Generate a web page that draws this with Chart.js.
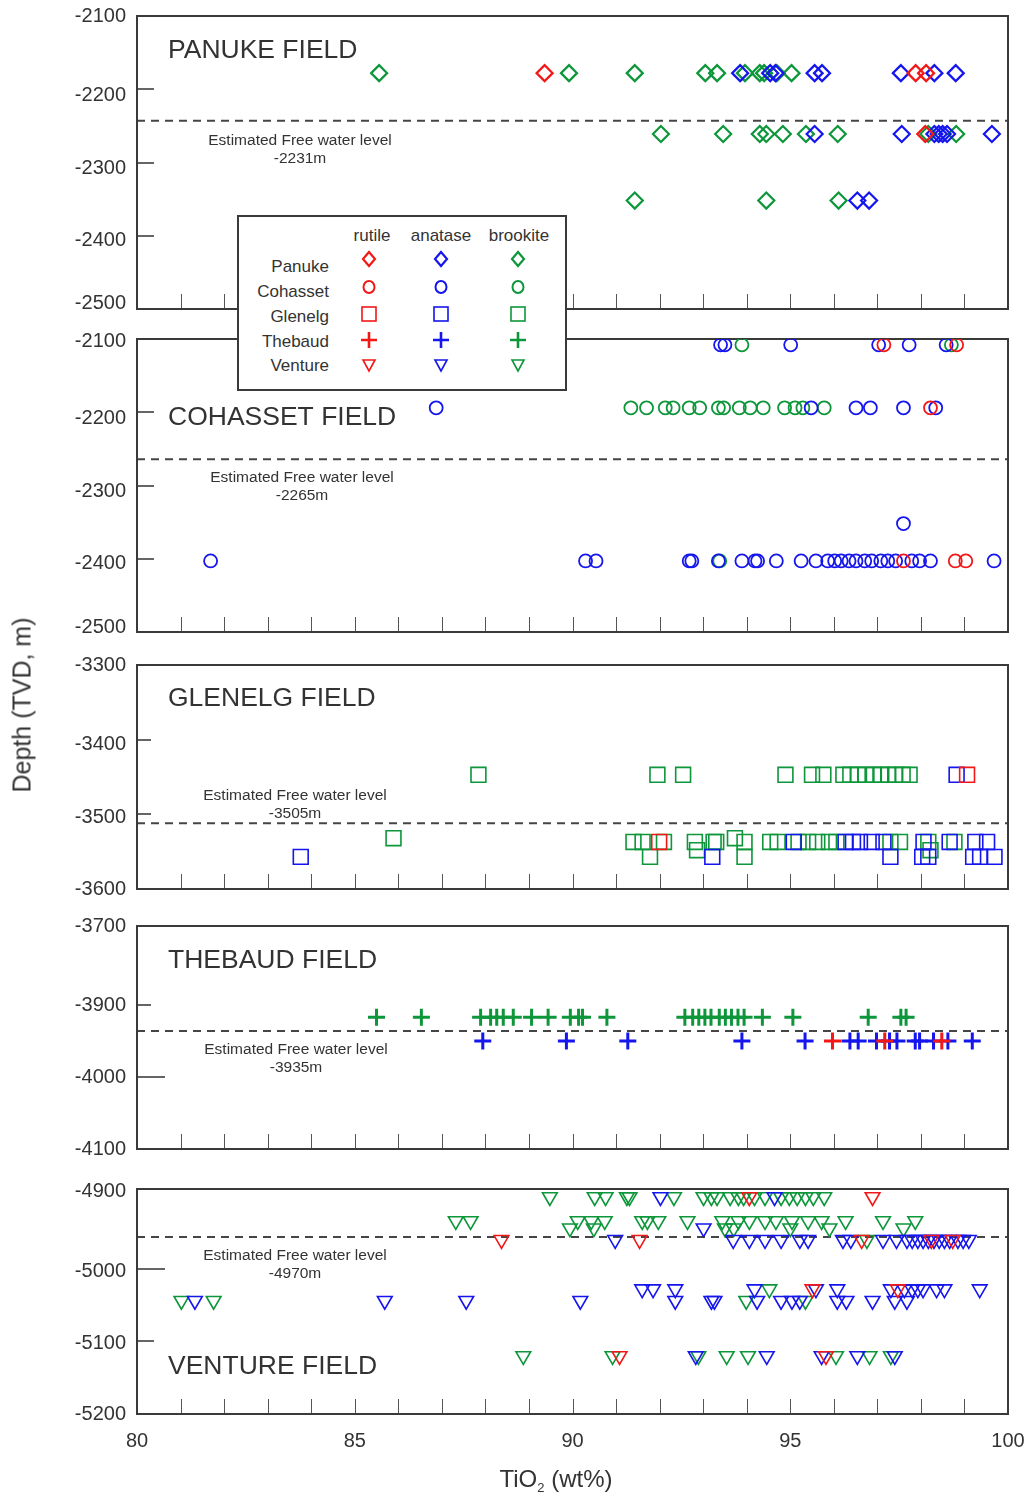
<!DOCTYPE html>
<html>
<head>
<meta charset="utf-8">
<script src="https://cdn.jsdelivr.net/npm/chart.js@4/dist/chart.umd.min.js"></script>
<style>
  body { margin: 0; background: #fff; width: 1029px; height: 1496px; position: relative; overflow: hidden;
         font-family: "Liberation Sans", Arial, sans-serif; color: #333; }
  canvas { position: absolute; left: 0; }
  #ytitle { position: absolute; left: 22px; top: 705px; transform: translate(-50%, -50%) rotate(-90deg);
            font-size: 25px; white-space: nowrap; }
  #xtitle { position: absolute; left: 556px; top: 1480px; transform: translate(-50%, -50%);
            font-size: 24px; white-space: nowrap; }
  #xtitle sub { font-size: 13px; }
  #legend { position: absolute; left: 237px; top: 215px; z-index: 5; }
</style>
</head>
<body>
<canvas id="p1" width="1029" height="341" style="top:-8px"></canvas>
<canvas id="p2" width="1029" height="341" style="top:315px"></canvas>
<canvas id="p3" width="1029" height="272" style="top:641px"></canvas>
<canvas id="p4" width="1029" height="271" style="top:902px"></canvas>
<canvas id="p5" width="1048" height="331" style="top:1165px"></canvas>
<div id="ytitle">Depth (TVD, m)</div>
<div id="xtitle">TiO<sub>2</sub> (wt%)</div>

<svg id="legend" width="330" height="176">
  <rect x="1" y="1" width="328" height="174" fill="#fff" stroke="#3a3a3a" stroke-width="2"/>
  <g font-family="Liberation Sans, Arial, sans-serif" font-size="17" fill="#333" text-anchor="middle">
    <text x="135" y="26">rutile</text>
    <text x="204" y="26">anatase</text>
    <text x="282" y="26">brookite</text>
  </g>
  <g font-family="Liberation Sans, Arial, sans-serif" font-size="17" fill="#333" text-anchor="end">
    <text x="92" y="57">Panuke</text>
    <text x="92" y="82">Cohasset</text>
    <text x="92" y="107">Glenelg</text>
    <text x="92" y="132">Thebaud</text>
    <text x="92" y="156">Venture</text>
  </g>
  <g id="legendMarks" fill="none" stroke-width="2"></g>
</svg>

<script>
// TiO2 (wt%) values grouped by depth rows: [depth (m), [TiO2 values...]]
const panukeRutile = [[-2178, [89.36, 97.88, 98.12]], [-2261, [98.10]]];
const panukeAnatase = [
  [-2178, [93.85, 94.54, 94.66, 95.56, 95.73, 97.54, 98.31, 98.80]],
  [-2261, [95.56, 97.56, 98.31, 98.41, 98.50, 98.60, 99.63]],
  [-2352, [96.54, 96.81]]
];
const panukeBrookite = [
  [-2178, [85.56, 89.92, 91.43, 93.05, 93.32, 93.96, 94.30, 94.40, 94.69, 95.03]],
  [-2261, [92.03, 93.46, 94.30, 94.45, 94.83, 95.36, 96.09, 98.17, 98.81]],
  [-2352, [91.43, 94.45, 96.11]]
];

const cohassetRutile = [[-2108, [97.15, 98.82]], [-2194, [98.22]], [-2403, [97.60, 98.79, 99.03]]];
const cohassetAnatase = [
  [-2108, [93.40, 93.50, 95.01, 97.03, 97.73, 98.58]],
  [-2194, [86.87, 95.48, 96.51, 96.84, 97.60, 98.34]],
  [-2352, [97.60]],
  [-2403, [81.69, 90.30, 90.54, 92.68, 92.74, 93.35, 93.89, 94.19, 94.25, 94.68, 95.25, 95.59, 95.86,
           96.02, 96.17, 96.35, 96.51, 96.71, 96.87, 97.08, 97.24, 97.42, 97.79, 97.97, 98.22, 99.68]]
];
const cohassetBrookite = [
  [-2108, [93.89, 98.70]],
  [-2194, [91.34, 91.70, 92.13, 92.31, 92.68, 92.92, 93.35, 93.47, 93.83, 94.08, 94.38, 94.87, 95.11, 95.29, 95.78]],
  [-2403, [93.38]]
];

const glenelgRutile = [[-3447, [99.06]], [-3537, [91.99]]];
const glenelgAnatase = [
  [-3447, [98.82]],
  [-3537, [95.08, 96.27, 96.44, 96.60, 96.87, 97.14, 98.06, 98.66, 99.25, 99.52]],
  [-3557, [83.76, 93.21, 97.30, 98.03, 98.17, 99.20, 99.36, 99.69]]
];
const glenelgBrookite = [
  [-3447, [87.84, 91.95, 92.54, 94.89, 95.50, 95.76, 96.22, 96.38, 96.55, 96.73, 96.92, 97.09, 97.25, 97.41, 97.58, 97.74]],
  [-3532, [85.89, 93.73]],
  [-3537, [91.40, 91.61, 92.10, 92.81, 93.24, 93.30, 93.95, 94.54, 94.71, 95.19, 95.41, 95.62, 95.89, 96.06,
           97.30, 97.52, 98.17, 98.77]],
  [-3548, [92.86, 98.22]],
  [-3557, [91.78, 93.95]]
];

const thebaudRutile = [[-3950, [95.97, 97.17, 98.48]]];
const thebaudAnatase = [
  [-3950, [87.94, 89.86, 91.27, 93.89, 95.34, 96.37, 96.56, 96.98, 97.28, 97.45, 97.87, 97.97, 98.29, 98.62, 99.18]]
];
const thebaudBrookite = [
  [-3917, [85.50, 86.53, 87.89, 88.12, 88.26, 88.41, 88.64, 89.06, 89.44, 89.95, 90.14, 90.23, 90.79, 92.58,
           92.76, 92.90, 93.04, 93.18, 93.37, 93.51, 93.65, 93.80, 93.94, 94.36, 95.06, 96.79, 97.54, 97.66]]
];

const ventureRutile = [
  [-4901, [94.06, 96.89]],
  [-4960, [88.37, 91.54, 96.64, 98.24, 98.73]],
  [-5028, [95.51, 97.47]],
  [-5120, [91.08, 95.82]]
];
const ventureAnatase = [
  [-4901, [92.02, 94.64]],
  [-4944, [93.01]],
  [-4960, [90.98, 93.69, 94.06, 94.42, 94.79, 95.22, 95.41, 96.21, 96.39, 97.13, 97.44, 97.68, 97.80, 97.93,
           98.05, 98.17, 98.30, 98.42, 98.54, 98.66, 98.85, 98.97, 99.10]],
  [-5028, [91.60, 91.85, 92.36, 94.18, 95.59, 96.08, 97.31, 97.62, 97.80, 97.93, 98.05, 98.36, 98.54, 99.35]],
  [-5044, [81.33, 85.69, 87.56, 90.18, 92.36, 93.19, 93.26, 94.24, 94.79, 95.04, 95.22, 96.08, 96.29, 96.89, 97.40, 97.68]],
  [-5120, [92.83, 94.46, 95.72, 96.54, 97.40]]
];
const ventureBrookite = [
  [-4901, [89.48, 90.51, 90.76, 91.25, 91.31, 92.33, 93.01, 93.19, 93.32, 93.62, 93.81, 93.93, 94.18, 94.42,
           94.79, 94.98, 95.16, 95.35, 95.53, 95.78]],
  [-4934, [87.32, 87.66, 90.12, 90.43, 90.74, 91.60, 91.72, 91.97, 92.64, 93.44, 93.81, 94.06, 94.42, 94.67,
           95.04, 95.41, 95.72, 96.27, 97.13, 97.87]],
  [-4944, [89.94, 90.49, 93.50, 93.70, 95.00, 95.90, 97.60]],
  [-4960, [96.76]],
  [-5028, [94.52]],
  [-5044, [81.02, 81.76, 93.99, 95.35]],
  [-5120, [88.87, 90.92, 92.89, 93.54, 94.03, 96.05, 96.82, 97.31]]
];

// axis ranges, tick label positions / labels and free water levels per field
const fieldNames = ['PANUKE FIELD', 'COHASSET FIELD', 'GLENELG FIELD', 'THEBAUD FIELD', 'VENTURE FIELD'];
const depthRanges = [[-2500, -2100], [-2500, -2100], [-3600, -3300], [-4100, -3790], [-5200, -4890]];
const depthTicks = [
  [-2101, -2209, -2308, -2406, -2493],
  [-2103, -2209, -2308, -2406, -2494],
  [-3300, -3406, -3504, -3600],
  [-3790, -3900, -4000, -4100],
  [-4893, -5004, -5103, -5200]
];
const depthTickLabels = [
  ['-2100', '-2200', '-2300', '-2400', '-2500'],
  ['-2100', '-2200', '-2300', '-2400', '-2500'],
  ['-3300', '-3400', '-3500', '-3600'],
  ['-3700', '-3900', '-4000', '-4100'],
  ['-4900', '-5000', '-5100', '-5200']
];
const waterLevels = [-2243, -2264, -3512, -3936, -4956];
const waterLabels = ['-2231m', '-2265m', '-3505m', '-3935m', '-4970m'];
const tioTicks = [80, 85, 90, 95, 100];

const RED = '#f21818', BLUE = '#1515ee', GREEN = '#0d963a';
const FONT = '"Liberation Sans", Arial, sans-serif';
Chart.defaults.font.family = FONT;

function toPoints(rows) {
  const pts = [];
  rows.forEach(([depth, xs]) => xs.forEach(x => pts.push({ x: x, y: depth })));
  return pts;
}

// frame, inner ticks, water level line and labels
const decor = {
  id: 'decor',
  beforeDatasetsDraw(chart, args, o) {
    const { ctx, chartArea: a, scales: { x, y } } = chart;
    ctx.save();
    const wy = y.getPixelForValue(o.water);
    ctx.strokeStyle = '#454545';
    ctx.lineWidth = 2;
    ctx.setLineDash([8, 6]);
    ctx.beginPath();
    ctx.moveTo(a.left, wy);
    ctx.lineTo(a.right, wy);
    ctx.stroke();
    ctx.setLineDash([]);

    ctx.strokeStyle = '#555';
    ctx.lineWidth = 1;
    ctx.beginPath();
    for (let v = 81; v < 100; v++) {
      const px = Math.round(x.getPixelForValue(v)) + 0.5;
      ctx.moveTo(px, a.bottom);
      ctx.lineTo(px, a.bottom - 15);
    }
    ctx.stroke();

    ctx.strokeStyle = '#333';
    ctx.lineWidth = 1.6;
    ctx.beginPath();
    o.marks.forEach(([v, len]) => {
      const py = Math.round(y.getPixelForValue(v));
      ctx.moveTo(a.left, py);
      ctx.lineTo(a.left + len, py);
    });
    ctx.stroke();

    ctx.strokeStyle = '#3a3a3a';
    ctx.lineWidth = 2;
    ctx.strokeRect(a.left, a.top, a.width, a.height);

    ctx.fillStyle = '#333';
    ctx.textBaseline = 'middle';
    ctx.font = '26.5px ' + FONT;
    ctx.textAlign = 'left';
    ctx.fillText(o.name, a.left + 31, a.top + o.nameY);
    ctx.font = '15.5px ' + FONT;
    ctx.textAlign = 'center';
    ctx.fillText('Estimated Free water level', a.left + o.noteX, wy + o.noteDy);
    ctx.fillText(o.waterText, a.left + o.noteX, wy + o.noteDy + 18);
    ctx.restore();
  }
};

const styles = [
  { style: 'rectRot', r: 8, w: 2.2, rot: 0 },
  { style: 'circle', r: 6.5, w: 1.8, rot: 0 },
  { style: 'rect', r: 10.5, w: 1.6, rot: 0 },
  { style: 'cross', r: 8.5, w: 3, rot: 0 },
  { style: 'triangle', r: 8.5, w: 1.6, rot: 180 }
];
const fieldData = [
  [panukeRutile, panukeAnatase, panukeBrookite],
  [cohassetRutile, cohassetAnatase, cohassetBrookite],
  [glenelgRutile, glenelgAnatase, glenelgBrookite],
  [thebaudRutile, thebaudAnatase, thebaudBrookite],
  [ventureRutile, ventureAnatase, ventureBrookite]
];
const innerMarks = [
  [[-2200, 17], [-2300, 17], [-2400, 17]],
  [[-2200, 17], [-2300, 17], [-2400, 17]],
  [[-3400, 14], [-3500, 14]],
  [[-3900, 14], [-4000, 28]],
  [[-5000, 28], [-5100, 17]]
];
const notePlace = [
  { nameY: 35, noteX: 163, noteDy: 20 },
  { nameY: 79, noteX: 165, noteDy: 19 },
  { nameY: 34, noteX: 158, noteDy: -28 },
  { nameY: 35, noteX: 159, noteDy: 19 },
  { nameY: 178, noteX: 158, noteDy: 19 }
];

fieldData.forEach((sets, i) => {
  const st = styles[i];
  const last = i === 4;
  const colors = [RED, BLUE, GREEN];
  new Chart(document.getElementById('p' + (i + 1)), {
    type: 'scatter',
    data: {
      datasets: sets.map((rows, k) => ({
        data: toPoints(rows),
        pointStyle: st.style,
        pointRadius: st.r,
        pointRotation: st.rot,
        pointBorderWidth: st.w,
        borderColor: colors[k],
        backgroundColor: 'rgba(0,0,0,0)'
      }))
    },
    options: {
      responsive: false,
      animation: false,
      devicePixelRatio: 1,
      layout: { padding: { top: 24, bottom: last ? 0 : 24, left: 0, right: last ? 40 : 21 } },
      plugins: {
        legend: { display: false },
        tooltip: { enabled: false },
        decor: Object.assign({
          name: fieldNames[i], water: waterLevels[i], waterText: waterLabels[i], marks: innerMarks[i]
        }, notePlace[i])
      },
      scales: {
        x: {
          type: 'linear', min: 80, max: 100, display: last,
          grid: { display: false, drawTicks: false }, border: { display: false },
          afterBuildTicks: ax => { ax.ticks = tioTicks.map(v => ({ value: v })); },
          afterFit: ax => { if (last) ax.height = 82; },
          ticks: { color: '#333', font: { size: 20 }, padding: 15, maxRotation: 0, autoSkip: false }
        },
        y: {
          type: 'linear', min: depthRanges[i][0], max: depthRanges[i][1],
          grid: { display: false, drawTicks: false }, border: { display: false },
          afterBuildTicks: ax => { ax.ticks = depthTicks[i].map(v => ({ value: v })); },
          afterFit: ax => { ax.width = 137; },
          ticks: {
            color: '#333', font: { size: 20 }, padding: 11, autoSkip: false,
            callback: (v, idx) => depthTickLabels[i][idx]
          }
        }
      }
    },
    plugins: [decor]
  });
});

// legend markers
const svgNS = 'http://www.w3.org/2000/svg';
const lg = document.getElementById('legendMarks');
const legendCols = [132, 204, 281];
const legendRows = [44, 72, 99, 125, 150];
function legendShape(kind, cx, cy, color) {
  let el;
  if (kind === 0) {
    el = document.createElementNS(svgNS, 'polygon');
    el.setAttribute('points', `${cx},${cy - 7} ${cx + 6},${cy} ${cx},${cy + 7} ${cx - 6},${cy}`);
    el.setAttribute('stroke-width', '2.2');
  } else if (kind === 1) {
    el = document.createElementNS(svgNS, 'ellipse');
    el.setAttribute('cx', cx); el.setAttribute('cy', cy);
    el.setAttribute('rx', 5.5); el.setAttribute('ry', 6);
  } else if (kind === 2) {
    el = document.createElementNS(svgNS, 'rect');
    el.setAttribute('x', cx - 7); el.setAttribute('y', cy - 7);
    el.setAttribute('width', 14); el.setAttribute('height', 14);
    el.setAttribute('stroke-width', '1.6');
  } else if (kind === 3) {
    el = document.createElementNS(svgNS, 'path');
    el.setAttribute('d', `M${cx - 8},${cy} H${cx + 8} M${cx},${cy - 8} V${cy + 8}`);
    el.setAttribute('stroke-width', '2.6');
  } else {
    el = document.createElementNS(svgNS, 'polygon');
    el.setAttribute('points', `${cx - 6},${cy - 5} ${cx + 6},${cy - 5} ${cx},${cy + 6}`);
    el.setAttribute('stroke-width', '1.6');
  }
  el.setAttribute('stroke', color);
  el.setAttribute('fill', 'none');
  lg.appendChild(el);
}
legendRows.forEach((cy, r) => {
  [RED, BLUE, GREEN].forEach((c, k) => legendShape(r, legendCols[k], cy, c));
});
</script>
</body>
</html>
